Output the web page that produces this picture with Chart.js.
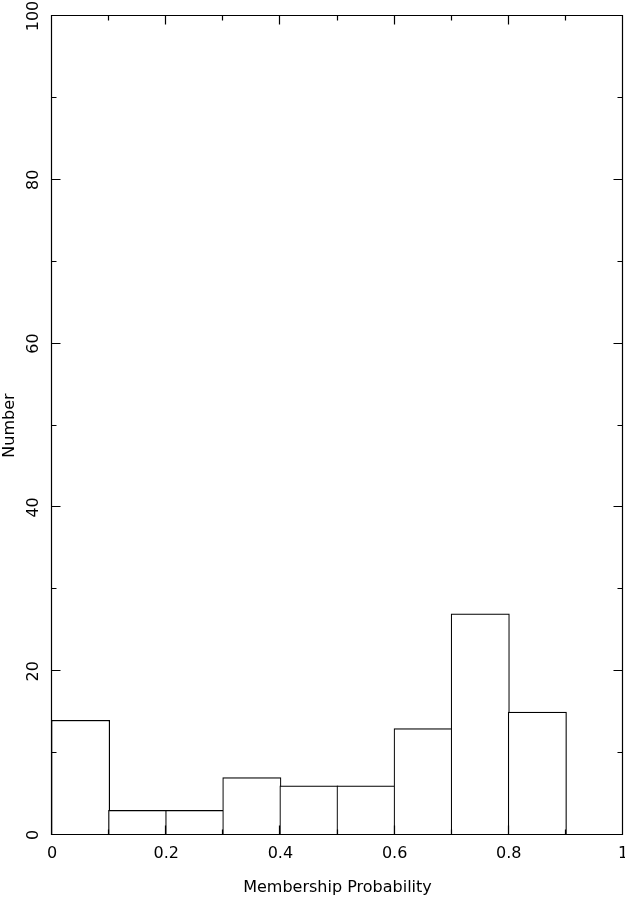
<!DOCTYPE html>
<html>
<head>
<meta charset="utf-8">
<script src="https://cdn.jsdelivr.net/npm/chart.js@4/dist/chart.umd.min.js"></script>
<style>
html,body{margin:0;padding:0;background:#fff;}
#wrap{width:625px;height:897px;position:relative;}
</style>
</head>
<body>
<div id="wrap"><canvas id="c"></canvas></div>
<script>
// ---- data ----
const binStarts = [0, 0.1, 0.2, 0.3, 0.4, 0.5, 0.6, 0.7, 0.8, 0.9];
const binWidth = 0.1;
const counts = [14, 3, 3, 7, 6, 6, 13, 27, 15, 0];
const xTicks = [0, 0.2, 0.4, 0.6, 0.8, 1];
const xTickLabels = ['0', '0.2', '0.4', '0.6', '0.8', '1'];
const xMinorTicks = [0.1, 0.3, 0.5, 0.7, 0.9];
const yTicks = [0, 20, 40, 60, 80, 100];
const yTickLabels = ['0', '20', '40', '60', '80', '100'];
const yMinorTicks = [10, 30, 50, 70, 90];
const xTitle = 'Membership Probability';
const yTitle = 'Number';

// ---- style ----
const FONT = "'DejaVu Sans', sans-serif";
const FONT_SIZE = 16;
const PLOT_W = 571; // chart area width in px (625 - 52 - 2)

const frameTicks = {
  id: 'frameTicks',
  afterDatasetsDraw(chart) {
    const {ctx, chartArea: a, scales: {x, y}} = chart;
    ctx.save();
    ctx.strokeStyle = '#000';
    ctx.lineWidth = 1.2;
    const L = a.left - 0.5, R = a.right - 0.5, T = a.top - 0.5, B = a.bottom - 0.5;
    ctx.beginPath();
    ctx.rect(L, T, R - L, B - T);
    const major = 9, minor = 5;
    const xt = (v, len) => {
      const p = Math.round(x.getPixelForValue(v)) - 0.5;
      ctx.moveTo(p, B); ctx.lineTo(p, B - len);
      ctx.moveTo(p, T); ctx.lineTo(p, T + len);
    };
    const yt = (v, len) => {
      const p = Math.round(y.getPixelForValue(v)) - 0.5;
      ctx.moveTo(L, p); ctx.lineTo(L + len, p);
      ctx.moveTo(R, p); ctx.lineTo(R - len, p);
    };
    xTicks.forEach(v => xt(v, major));
    xMinorTicks.forEach(v => xt(v, minor));
    yTicks.forEach(v => yt(v, major));
    yMinorTicks.forEach(v => yt(v, minor));
    ctx.stroke();
    ctx.restore();
  }
};

new Chart(document.getElementById('c'), {
  type: 'bar',
  data: {
    datasets: [{
      data: binStarts.map((s, i) => ({x: s + binWidth / 2, y: counts[i]})),
      backgroundColor: '#ffffff',
      borderColor: '#000000',
      borderWidth: 1.2,
      borderSkipped: 'start',
      barThickness: PLOT_W / binStarts.length + 1.2
    }]
  },
  options: {
    responsive: true,
    maintainAspectRatio: false,
    animation: false,
    devicePixelRatio: 1,
    layout: {padding: {top: 16, right: 2, left: 0, bottom: 0}},
    plugins: {legend: {display: false}, tooltip: {enabled: false}},
    scales: {
      x: {
        type: 'linear', min: 0, max: 1, offset: false,
        grid: {display: false, drawTicks: false},
        border: {display: false},
        afterBuildTicks: s => { s.ticks = xTicks.map(v => ({value: v})); },
        afterFit: s => { s.height = 62; s.paddingLeft = 0; s.paddingRight = 0; },
        ticks: {
          autoSkip: false, maxRotation: 0, minRotation: 0, padding: 9,
          color: '#000', font: {family: FONT, size: FONT_SIZE},
          callback: (v, i) => xTickLabels[i]
        },
        title: {
          display: true, text: xTitle, color: '#000',
          font: {family: FONT, size: FONT_SIZE},
          padding: {top: 0, bottom: 0}
        }
      },
      y: {
        type: 'linear', min: 0, max: 100,
        grid: {display: false, drawTicks: false},
        border: {display: false},
        afterBuildTicks: s => { s.ticks = yTicks.map(v => ({value: v})); },
        afterFit: s => { s.width = 52; s.paddingTop = 0; s.paddingBottom = 0; },
        ticks: {
          autoSkip: false, minRotation: 90, maxRotation: 90, crossAlign: 'center', padding: 3,
          color: '#000', font: {family: FONT, size: FONT_SIZE},
          callback: (v, i) => yTickLabels[i]
        },
        title: {
          display: true, text: yTitle, color: '#000',
          font: {family: FONT, size: FONT_SIZE},
          padding: {top: 0, bottom: 0}
        }
      }
    }
  },
  plugins: [frameTicks]
});
</script>
</body>
</html>
